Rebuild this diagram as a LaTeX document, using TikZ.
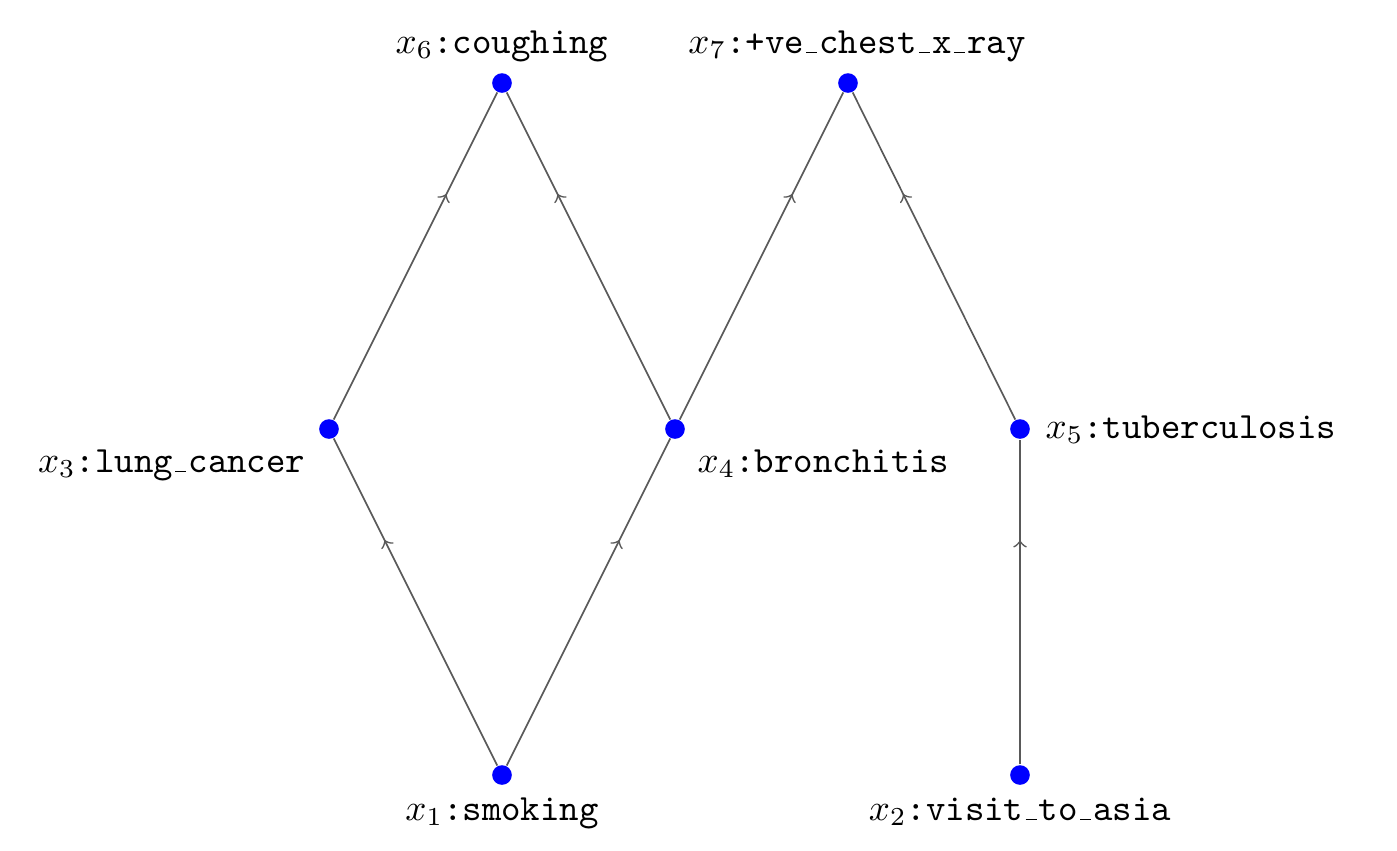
\documentclass[tikz,border=0pt]{standalone}
\usetikzlibrary{decorations.markings}
\newcommand\ttus{\leavevmode\kern.06em\vbox{\hrule width.3em height0.4pt}\kern.06em}
\begin{document}
\begin{tikzpicture}[x=0.27pt,y=-0.27pt,
  vert/.style={circle,fill=blue,inner sep=0pt,minimum size=5.3pt},
  lab/.style={inner sep=0pt,font=\normalsize},
  edge/.style={draw=black!65,line width=0.45pt,
    postaction={decorate},
    decoration={markings,mark=at position 0.69 with {\arrow[black!65]{>}}}}]
\useasboundingbox (0,0) rectangle (1397,850);
\node[vert] (x1) at (502,775) {};
\node[vert] (x2) at (1020,775) {};
\node[vert] (x3) at (329,429) {};
\node[vert] (x4) at (675,429) {};
\node[vert] (x5) at (1020,429) {};
\node[vert] (x6) at (502,83) {};
\node[vert] (x7) at (848,83) {};
\node[lab,anchor=base] (l6) at (502,53) {$x_6$\texttt{:coughing}};
\node[lab,anchor=base] (l7) at (857,53) {$x_7$\texttt{:+ve\ttus chest\ttus x\ttus ray}};
\node[lab,anchor=base east] (l3) at (306,472) {$x_3$\texttt{:lung\ttus cancer}};
\node[lab,anchor=base west] (l4) at (697,472) {$x_4$\texttt{:bronchitis}};
\node[lab,anchor=base west] (l5) at (1045,438) {$x_5$\texttt{:tuberculosis}};
\node[lab,anchor=base] (l1) at (502,820) {$x_1$\texttt{:smoking}};
\node[lab,anchor=base] (l2) at (1020,820) {$x_2$\texttt{:visit\ttus to\ttus asia}};
\path[edge] (x1) -- (x3);
\path[edge] (x1) -- (x4);
\path[edge] (x3) -- (x6);
\path[edge] (x4) -- (x6);
\path[edge] (x4) -- (x7);
\path[edge] (x5) -- (x7);
\path[edge] (x2) -- (x5);
\end{tikzpicture}
\end{document}
